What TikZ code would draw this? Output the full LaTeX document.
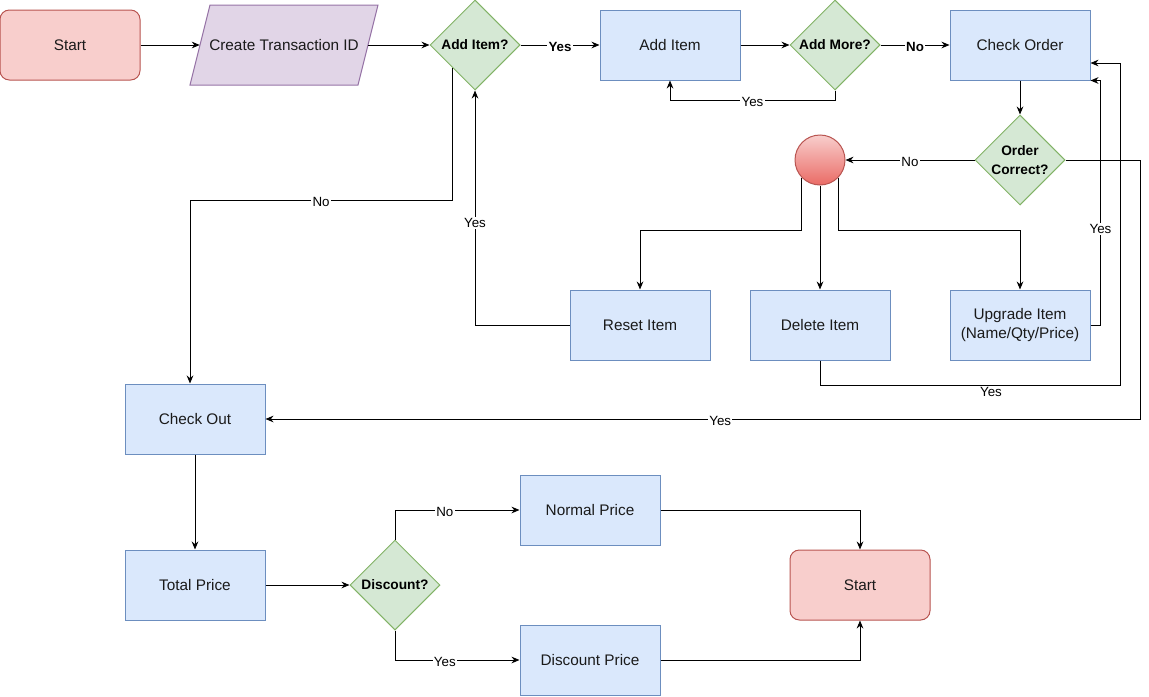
\documentclass[tikz,border=0pt]{standalone}
\usepackage{fontspec}
\setmainfont{Liberation Sans}
\usetikzlibrary{shapes.geometric,arrows.meta,calc}
\definecolor{bluefill}{HTML}{DAE8FC}
\definecolor{bluedraw}{HTML}{6C8EBF}
\definecolor{greenfill}{HTML}{D5E8D4}
\definecolor{greendraw}{HTML}{82B366}
\definecolor{redfill}{HTML}{F8CECC}
\definecolor{reddraw}{HTML}{B85450}
\definecolor{reddeep}{HTML}{EA6B66}
\definecolor{purplefill}{HTML}{E1D5E7}
\definecolor{purpledraw}{HTML}{9673A6}
\definecolor{inktext}{HTML}{1A1A1A}

\begin{document}
\begin{tikzpicture}[x=0.75pt,y=-0.75pt,
  every node/.style={inner sep=0pt},
  boxtext/.style={font=\fontsize{11.5}{14}\selectfont, align=center, text=inktext},
  process/.style={boxtext, rectangle, draw=bluedraw, fill=bluefill, line width=0.75pt,
                  minimum width=105pt, minimum height=52.5pt},
  terminal/.style={boxtext, rectangle, rounded corners=7pt, draw=reddraw, fill=redfill,
                   line width=0.75pt, minimum width=105pt, minimum height=52.5pt},
  decision/.style={diamond, draw=greendraw, fill=greenfill, line width=0.75pt,
                   minimum width=67.5pt, minimum height=67.5pt,
                   font=\bfseries\fontsize{10.3}{14.5}\selectfont, align=center},
  flow/.style={draw=black, line width=0.75pt, -{Stealth[length=6pt,width=5pt]}},
  lbl/.style={fill=white, inner sep=1pt, yshift=-1.2pt, font=\fontsize{10}{12}\selectfont},
  lblb/.style={lbl, font=\bfseries\fontsize{10}{12}\selectfont},
]
\useasboundingbox (0,0) rectangle (1149,696);

% ---- top row ----
\node[terminal] (start) at (70,45) {Start};
\draw[draw=purpledraw, fill=purplefill, line width=0.75pt]
  (190,85) -- (210,5) -- (378,5) -- (358,85) -- cycle;
\node[boxtext, minimum width=126pt, minimum height=60pt] (ctid) at (284,45) {Create Transaction ID};
\node[decision] (q1) at (475,45) {Add Item?};
\node[process] (add) at (670,45) {Add Item};
\node[decision] (q2) at (835,45) {Add More?};
\node[process] (check) at (1020,45) {Check Order};
\node[decision] (q3) at (1020,160) {Order\\Correct?};

% ---- edit branch ----
\node[circle, draw=reddraw, top color=redfill, bottom color=reddeep,
      minimum size=37.5pt, line width=0.75pt] (circ) at (820,160) {};
\node[process] (reset) at (640,325) {Reset Item};
\node[process] (del) at (820,325) {Delete Item};
\node[process] (upg) at (1020,325) {Upgrade Item\\(Name/Qty/Price)};

% ---- checkout ----
\node[process] (out) at (195,419) {Check Out};
\node[process] (total) at (195,585) {Total Price};
\node[decision] (q4) at (395,585) {Discount?};
\node[process] (normal) at (590,510) {Normal Price};
\node[process] (disc) at (590,660) {Discount Price};
\node[terminal] (finish) at (860,585) {Start};

% ---- connectors ----
\draw[flow] (start) -- (ctid);
\draw[flow] (ctid) -- (q1);
\draw[flow] (q1) -- node[lblb]{Yes} (add);
\draw[flow] (add) -- (q2);
\draw[flow] (q2) -- node[lblb]{No} (check);
\draw[flow] (q2.south) -- ++(0,10) -| node[lbl,pos=0.25]{Yes} (add.south);
\draw[flow] (check) -- (q3);
\draw[flow] (q3) -- node[lbl]{No} (circ);
\draw[flow] (q3.east) -- (q3.east -| 1140,0) |- node[lbl,pos=0.74]{Yes} (out.east);

\draw[flow] (circ.south west) -- (circ.south west |- 0,230) -| (reset.north);
\draw[flow] (circ) -- (del);
\draw[flow] (circ.south east) -- (circ.south east |- 0,230) -| (upg.north);

\draw[flow] (reset.west) -| node[lbl,pos=0.72]{Yes} (q1.south);
\draw[flow] (upg.east) -- ++(10,0) |- node[lbl,pos=0.2]{Yes} (check.south east);
\draw[flow] (del.south) -- ++(0,25) -- node[lbl,pos=0.57,yshift=-3.5pt]{Yes} ++(300,0)
  |- ($(check.east)+(0,18)$);

\draw[flow] ($(q1.south)!0.5!(q1.west)$) -- ++(0,133)
  -| node[lbl,pos=0.25]{No} ($(out.north)+(-5,0)$);

\draw[flow] (out) -- (total);
\draw[flow] (total) -- (q4);
\draw[flow] (q4.north) |- node[lbl,pos=0.7]{No} (normal.west);
\draw[flow] (q4.south) |- node[lbl,pos=0.7]{Yes} (disc.west);
\draw[flow] (normal.east) -| (finish.north);
\draw[flow] (disc.east) -| (finish.south);
\end{tikzpicture}
\end{document}
